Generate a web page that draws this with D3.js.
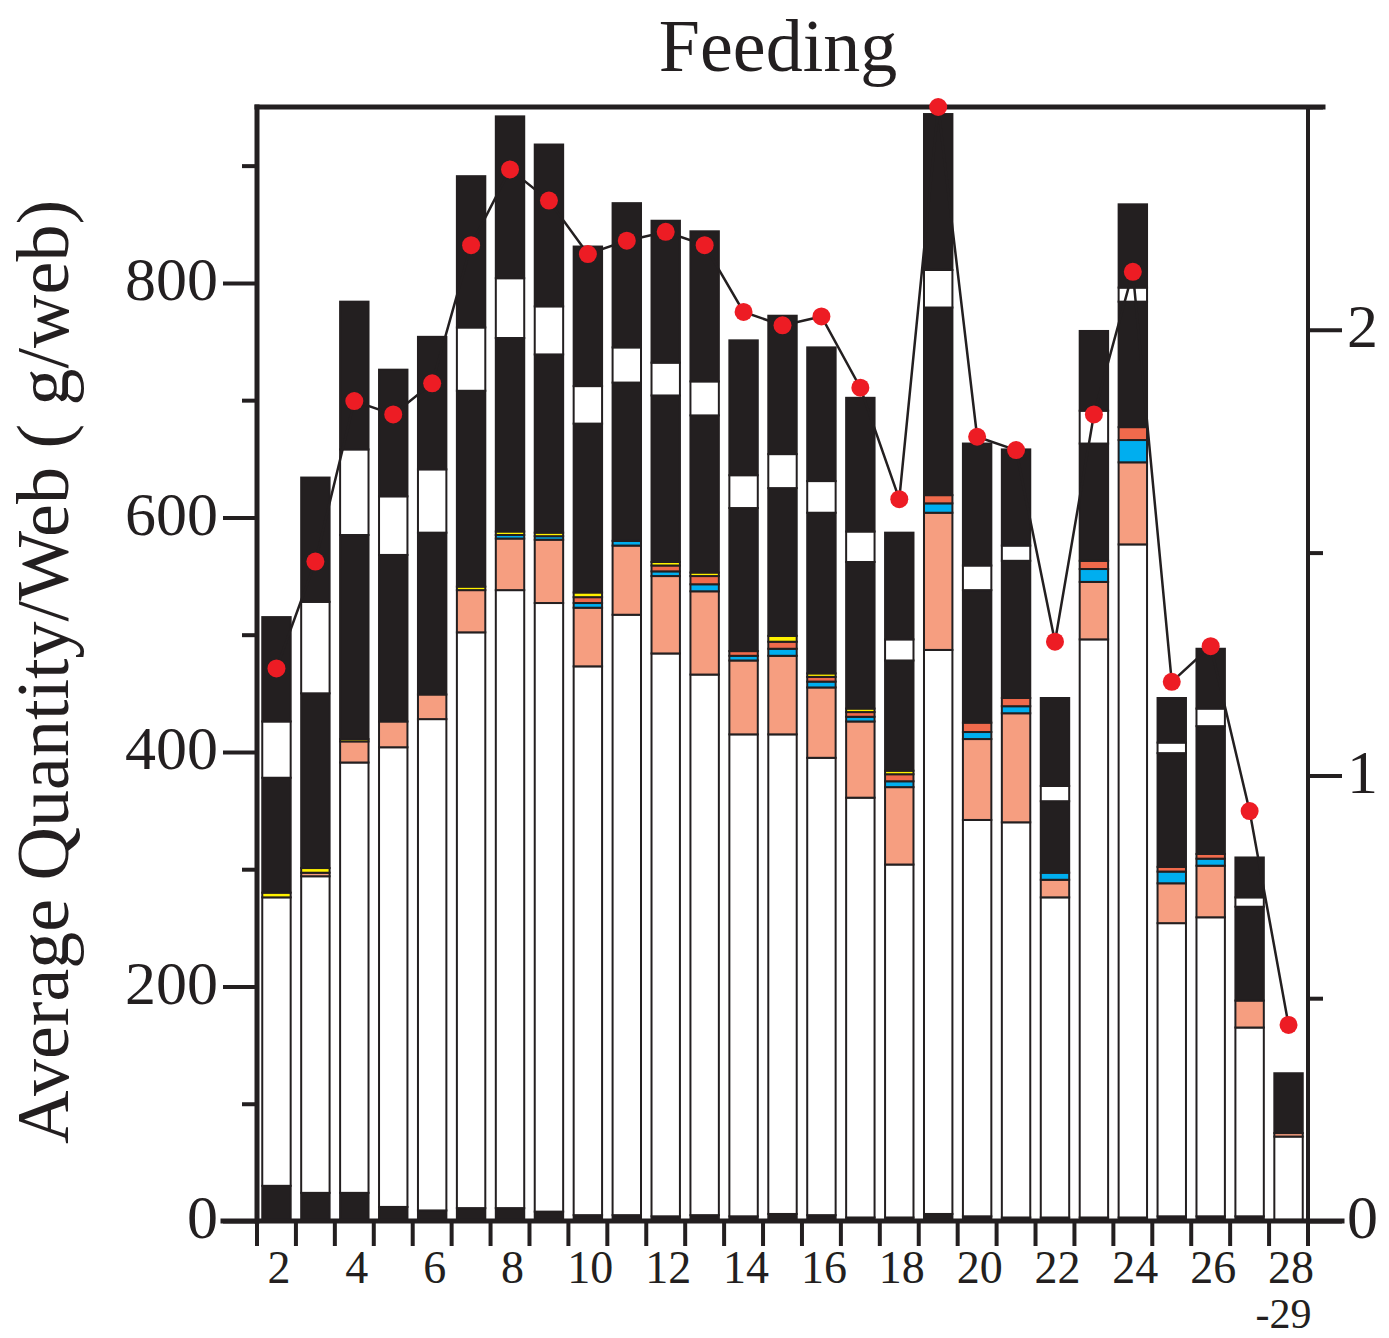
<!DOCTYPE html>
<html>
<head>
<meta charset="utf-8">
<script src="https://cdn.jsdelivr.net/npm/d3@7"></script>
<style>
  html, body { margin: 0; padding: 0; background: #ffffff; }
  svg { display: block; }
  text { font-family: "Liberation Serif", "Times New Roman", Times, serif; fill: #231f20; }
</style>
</head>
<body>
<svg id="chart" width="1389" height="1338"></svg>
<script>
// Sampling periods along the x axis (last one is the pooled 28-29 period)
const periods = ["2","3","4","5","6","7","8","9","10","11","12","13","14","15","16","17","18","19","20","21","22","23","24","25","26","27","28"];
const xTickLabels = ["2","4","6","8","10","12","14","16","18","20","22","24","26","28"];
const leftMajorTicks = [0, 200, 400, 600, 800];
const leftMinorTicks = [100, 300, 500, 700, 900];
const rightMajorTicks = [0, 1, 2];
const rightMinorTicks = [0.5, 1.5, 2.5];

// Stacked components of average quantity per web (g/web), bottom to top
const base       = [30,24,24,12,9,11,11,8,5,5,4,5,4,6,5,3,3,6,4,3,3,3,3,4,4,4,1];
const whiteLower = [246,270,367,392,419,491,527,519,468,512,480,461,411,409,390,358,301,481,338,337,273,493,574,250,255,161,71];
const salmon     = [0,3,18,22,21,36,44,54,50,59,66,71,63,67,60,65,66,117,69,93,15,49,70,34,44,23,3];
const blue       = [0,0,0,0,0,0,3,3,4,4,4,6,4,6,5,4,5,8,6,6,6,11,19,10,6,0,0];
const coral      = [0,0,0,0,0,0,0,0,5,0,5,7,4,6,4,4,6,7,8,7,0,7,11,4,4,0,0];
const yellow     = [4,4,2,0,0,3,3,3,4,0,3,3,0,5,3,3,3,0,0,0,0,0,0,0,0,0,0];
const blackMid   = [98,149,174,142,138,167,165,152,144,135,142,134,122,126,137,125,94,160,113,117,61,100,107,97,109,80,51];
const whiteUpper = [48,78,73,50,54,54,51,41,32,30,28,29,28,29,27,26,18,32,21,13,13,28,12,9,15,8,0];
const blackTop   = [89,106,126,108,113,129,138,138,119,123,121,128,115,118,114,114,91,133,104,82,75,68,71,38,51,34,0];

// Feeding rate on the right-hand axis
const feedingRate = [1.24,1.48,1.84,1.81,1.88,2.19,2.36,2.29,2.17,2.20,2.22,2.19,2.04,2.01,2.03,1.87,1.62,2.50,1.76,1.73,1.30,1.81,2.13,1.21,1.29,0.92,0.44];

const seriesKeys = ["base","whiteLower","salmon","blue","coral","yellow","blackMid","whiteUpper","blackTop"];
const seriesArrays = { base, whiteLower, salmon, blue, coral, yellow, blackMid, whiteUpper, blackTop };
const INK = "#231f20";
const fillColor = {
  base: INK, whiteLower: "#ffffff", salmon: "#f69e80", blue: "#00aeef",
  coral: "#f06a4c", yellow: "#fff200", blackMid: INK, whiteUpper: "#ffffff", blackTop: INK
};

const rows = periods.map((p, i) => {
  const r = { period: p };
  seriesKeys.forEach(k => { r[k] = seriesArrays[k][i]; });
  return r;
});

const svg = d3.select("#chart");
const plot = { left: 257, right: 1308, top: 107, bottom: 1221 };

const x = d3.scaleBand()
  .domain(periods)
  .range([plot.left, plot.right])
  .paddingInner(0.27)
  .paddingOuter(0.135);

const y = d3.scaleLinear().domain([0, 950]).range([plot.bottom, plot.top]);
const yR = d3.scaleLinear().domain([0, 2.5]).range([plot.bottom, plot.top]);

const stacked = d3.stack().keys(seriesKeys)(rows);

// Bars
const barLayer = svg.append("g");
stacked.forEach(layer => {
  barLayer.append("g")
    .selectAll("rect")
    .data(layer.filter(d => d[1] - d[0] > 0))
    .join("rect")
      .attr("x", d => x(d.data.period))
      .attr("width", x.bandwidth())
      .attr("y", d => y(d[1]))
      .attr("height", d => y(d[0]) - y(d[1]))
      .attr("fill", fillColor[layer.key])
      .attr("stroke", INK)
      .attr("stroke-width", 2);
});

// Frame: left, right and top borders plus the baseline
const frame = svg.append("g").attr("stroke", INK).attr("stroke-linecap", "square");
frame.append("line").attr("x1", plot.left).attr("x2", plot.left).attr("y1", plot.top).attr("y2", plot.bottom).attr("stroke-width", 5);
frame.append("line").attr("x1", plot.right).attr("x2", plot.right).attr("y1", plot.top).attr("y2", plot.bottom).attr("stroke-width", 4);
frame.append("line").attr("x1", plot.left).attr("x2", plot.right + 15).attr("y1", plot.top).attr("y2", plot.top).attr("stroke-width", 5);
frame.append("line").attr("x1", plot.left - 34).attr("x2", plot.right + 34).attr("y1", plot.bottom).attr("y2", plot.bottom).attr("stroke-width", 5);

function styleAxis(g, fontSize, dy) {
  g.select(".domain").remove();
  g.selectAll(".tick line").attr("stroke", INK).attr("stroke-width", 4);
  g.selectAll(".tick text")
    .attr("font-size", fontSize)
    .attr("fill", INK)
    .attr("dy", dy)
    .style("font-family", "'Liberation Serif', 'Times New Roman', serif");
}

// Left axis
svg.append("g")
  .attr("transform", `translate(${plot.left},0)`)
  .call(d3.axisLeft(y).tickValues(leftMajorTicks).tickSize(34).tickPadding(5).tickFormat(d3.format("d")))
  .call(g => styleAxis(g, 62, "0.27em"));
svg.append("g")
  .attr("transform", `translate(${plot.left},0)`)
  .call(d3.axisLeft(y).tickValues(leftMinorTicks).tickSize(15).tickFormat(""))
  .call(g => styleAxis(g, 62, "0"));

// Right axis
svg.append("g")
  .attr("transform", `translate(${plot.right},0)`)
  .call(d3.axisRight(yR).tickValues(rightMajorTicks).tickSize(34).tickPadding(5).tickFormat(d3.format("d")))
  .call(g => styleAxis(g, 62, "0.27em"));
svg.append("g")
  .attr("transform", `translate(${plot.right},0)`)
  .call(d3.axisRight(yR).tickValues(rightMinorTicks).tickSize(15).tickFormat(""))
  .call(g => styleAxis(g, 62, "0"));

// Bottom axis: ticks on band boundaries, labels on every other period
const boundaries = d3.range(periods.length + 1).map(i => x.range()[0] + i * x.step());
svg.append("g")
  .selectAll("line")
  .data(boundaries)
  .join("line")
    .attr("x1", d => d).attr("x2", d => d)
    .attr("y1", plot.bottom).attr("y2", plot.bottom + 25)
    .attr("stroke", INK).attr("stroke-width", 4);

svg.append("g")
  .attr("transform", `translate(2.5,${plot.bottom})`)
  .call(d3.axisBottom(x).tickValues(xTickLabels).tickSize(0).tickPadding(29))
  .call(g => {
    g.select(".domain").remove();
    g.selectAll(".tick text")
      .attr("font-size", 46)
      .attr("fill", INK)
      .attr("dy", "0.71em")
      .style("font-family", "'Liberation Serif', 'Times New Roman', serif");
  });

svg.append("text")
  .attr("x", x("28") + x.bandwidth() / 2 - 5)
  .attr("y", 1328)
  .attr("text-anchor", "middle")
  .attr("font-size", 42)
  .text("-29");

// Feeding rate line and points
const line = d3.line()
  .x((d, i) => x(periods[i]) + x.bandwidth() / 2)
  .y(d => yR(d));

svg.append("path")
  .datum(feedingRate)
  .attr("d", line)
  .attr("fill", "none")
  .attr("stroke", INK)
  .attr("stroke-width", 2.5);

svg.append("g")
  .selectAll("circle")
  .data(feedingRate)
  .join("circle")
    .attr("cx", (d, i) => x(periods[i]) + x.bandwidth() / 2)
    .attr("cy", d => yR(d))
    .attr("r", 9)
    .attr("fill", "#ed1c24");

// Title and axis label
svg.append("text")
  .attr("x", 778)
  .attr("y", 71)
  .attr("text-anchor", "middle")
  .attr("font-size", 74)
  .text("Feeding");

svg.append("text")
  .attr("transform", "translate(68,672) rotate(-90)")
  .attr("text-anchor", "middle")
  .attr("font-size", 74)
  .text("Average Quantity/Web ( g/web)");
</script>
</body>
</html>
